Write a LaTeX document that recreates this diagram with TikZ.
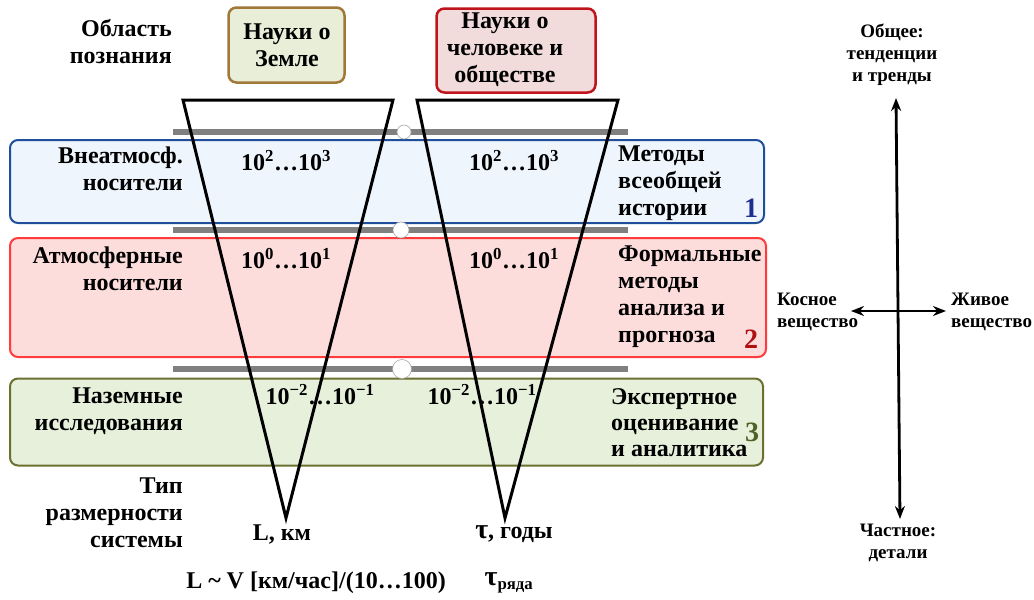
\documentclass[tikz,border=0pt]{standalone}
\usepackage{fontspec}
\setmainfont{Liberation Serif}
\usetikzlibrary{arrows.meta}
\definecolor{bandAfill}{HTML}{EEF5FC}
\definecolor{bandAdraw}{HTML}{1F4E9A}
\definecolor{bandBfill}{HTML}{FDDCDC}
\definecolor{bandBdraw}{HTML}{FF3B3B}
\definecolor{bandCfill}{HTML}{E6F0DA}
\definecolor{bandCdraw}{HTML}{6B7030}
\definecolor{boxAfill}{HTML}{E8EED8}
\definecolor{boxAdraw}{HTML}{A07838}
\definecolor{boxBfill}{HTML}{F2DCDB}
\definecolor{boxBdraw}{HTML}{C0141C}
\definecolor{numA}{HTML}{1F2F8F}
\definecolor{numB}{HTML}{B01010}
\definecolor{numC}{HTML}{4F6228}
\definecolor{barcol}{HTML}{808080}
\begin{document}
\begin{tikzpicture}[x=1pt,y=-1pt,
  txt/.style={font=\bfseries\fontsize{24}{27}\selectfont, inner sep=0pt},
  ltxt/.style={txt, align=right, anchor=east},
  rtxt/.style={txt, align=left, anchor=west},
  ctxt/.style={txt, align=center},
  axtxt/.style={font=\bfseries\fontsize{19}{22}\selectfont, inner sep=0pt},
  num/.style={font=\bfseries\fontsize{28}{30}\selectfont, inner sep=0pt},
  band/.style={rectangle, rounded corners=8pt, line width=2pt, inner sep=0pt},
  topbox/.style={rectangle, rounded corners=8pt, line width=2.5pt, inner sep=0pt},
  bar/.style={line width=6pt, draw=barcol},
  knob/.style={circle, fill=white, draw=gray!70, line width=0.6pt, inner sep=0pt},
  funnel/.style={line width=3pt, line join=miter},
  axis/.style={line width=2.8pt, {Stealth[length=13pt,width=10pt]}-{Stealth[length=13pt,width=10pt]}}
]
\useasboundingbox (0,0) rectangle (1034,600);

% bands
\node[band, fill=bandAfill, draw=bandAdraw, minimum width=754pt, minimum height=83pt] (band1) at (387,181.5) {};
\node[band, fill=bandBfill, draw=bandBdraw, minimum width=756pt, minimum height=119pt] (band2) at (388,297.5) {};
\node[band, fill=bandCfill, draw=bandCdraw, minimum width=753pt, minimum height=87pt] (band3) at (386.5,422) {};

% top boxes
\node[topbox, fill=boxAfill, draw=boxAdraw, minimum width=116pt, minimum height=75pt] (boxA) at (286.5,45) {};
\node[topbox, fill=boxBfill, draw=boxBdraw, minimum width=159pt, minimum height=84pt] (boxB) at (516,50.5) {};
\node[ctxt] (boxAt) at (287,45) {Науки о\\Земле};
\node[ctxt] (boxBt) at (505,50) {Науки о\\человеке и\\обществе};

% bars
\draw[bar] (173,132) coordinate (b1l) -- (628,132) coordinate (b1r);
\draw[bar] (173,230) coordinate (b2l) -- (628,230) coordinate (b2r);
\draw[bar] (173,369) coordinate (b3l) -- (628,369) coordinate (b3r);
\node[knob, minimum size=14pt] (k1) at (404,132) {};
\node[knob, minimum size=16pt] (k2) at (401,230) {};
\node[knob, minimum size=19pt] (k3) at (402,369) {};

% values
\node[ctxt] (v1l) at (286,161) {10\textsuperscript{2}…10\textsuperscript{3}};
\node[ctxt] (v1r) at (514,161) {10\textsuperscript{2}…10\textsuperscript{3}};
\node[ctxt] (v2l) at (286,259) {10\textsuperscript{0}…10\textsuperscript{1}};
\node[ctxt] (v2r) at (514,259) {10\textsuperscript{0}…10\textsuperscript{1}};
\node[ctxt] (v3l) at (320,395) {10\textsuperscript{−2}…10\textsuperscript{−1}};
\node[ctxt] (v3r) at (482,395) {10\textsuperscript{−2}…10\textsuperscript{−1}};

% funnels
\coordinate (fAl) at (183,100);
\coordinate (fAr) at (393,100);
\coordinate (fAb) at (286,518);
\coordinate (fBl) at (417,100);
\coordinate (fBr) at (618,100);
\coordinate (fBb) at (505,518);
\draw[funnel] (fAl) -- (fAr) -- (fAb) -- cycle;
\draw[funnel] (fBl) -- (fBr) -- (fBb) -- cycle;

% left labels
\node[ltxt] (lab0) at (172,42) {Область\\познания};
\node[ltxt] (lab1) at (183,169) {Внеатмосф.\\носители};
\node[ltxt] (lab2) at (183,269) {Атмосферные\\носители};
\node[ltxt] (lab3) at (183,411) {Наземные\\исследования};
\node[ltxt] (lab4) at (183,513) {Тип\\размерности\\системы};

% right labels
\node[rtxt] (m1) at (618,183) {Методы\\всеобщей\\истории};
\node[rtxt] (m2) at (618,297) {Формальные\\методы\\анализа и\\прогноза};
\node[rtxt, font=\bfseries\fontsize{24}{26}\selectfont] (m3) at (611,423) {Экспертное\\оценивание\\и аналитика};
\node[num, text=numA] (n1) at (751,208) {1};
\node[num, text=numB] (n2) at (751,339) {2};
\node[num, text=numC] (n3) at (752,432) {3};

% bottom
\node[ctxt] (Lkm) at (282,534) {L, км};
\node[ctxt] (tau) at (514,534) {{\fontsize{28}{28}\selectfont τ}, годы};
\node[ctxt] (Lv) at (316,583) {L \textasciitilde{} V [км/час]/(10…100)};
\node[ctxt] (taur) at (509,583) {{\fontsize{28}{28}\selectfont τ}\textsubscript{ряда}};

% axes
\coordinate (vt) at (896,98);
\coordinate (vb) at (900,519);
\coordinate (hl) at (851,311);
\coordinate (hr) at (946,311);
\draw[axis] (vt) -- (vb);
\draw[axis, line width=2.4pt] (hl) -- (hr);
\node[axtxt, align=center] (gen) at (892,55) {Общее:\\тенденции\\и тренды};
\node[axtxt, align=center] (det) at (898,543) {Частное:\\детали};
\node[axtxt, align=left, anchor=west] (kos) at (777,312) {Косное\\вещество};
\node[axtxt, align=left, anchor=west] (jiv) at (951,312) {Живое\\вещество};
\end{tikzpicture}
\end{document}
